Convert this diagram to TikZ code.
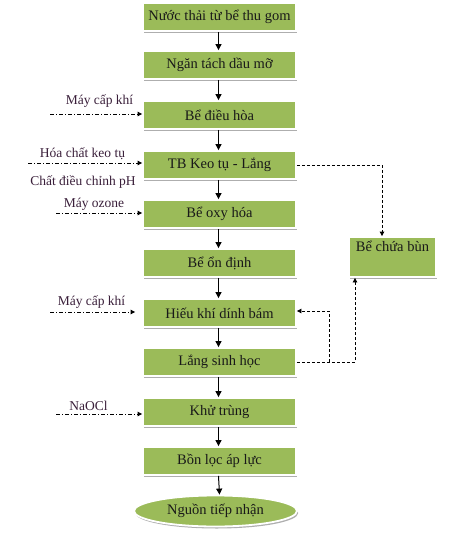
\documentclass[tikz,border=0pt]{standalone}
\usepackage{fontspec}
\setmainfont{Liberation Serif}
\usetikzlibrary{arrows.meta,shapes.geometric,shadows}
\definecolor{boxgreen}{HTML}{9BBB59}
\definecolor{labelcol}{HTML}{3A1F3A}
\tikzset{
  proc/.style={rectangle, fill=boxgreen, draw=white, line width=1.8pt,
    minimum width=153pt, minimum height=28pt, inner sep=0pt,
    font=\fontsize{14.5}{16}\selectfont, text=black!90,
    drop shadow={shadow xshift=1.2pt, shadow yshift=-1.8pt, fill=black!45, opacity=0.7}},
  flow/.style={line width=1pt, -{Triangle[length=6pt,width=6pt]}},
  feed/.style={line width=0.8pt, dash pattern=on 4pt off 2pt on 1pt off 2pt, -{Triangle[length=4.5pt,width=4.5pt]}},
  sludge/.style={line width=0.8pt, dash pattern=on 3pt off 2pt, -{Triangle[length=4.5pt,width=4.5pt]}},
  lbl/.style={font=\fontsize{13.5}{15}\selectfont, text=labelcol, inner sep=0pt}
}
\begin{document}
\begin{tikzpicture}[x=1pt,y=-1pt]
\useasboundingbox (0,0) rectangle (474,544);
\node[proc] (n1) at (219.5,17) {Nước thải từ bể thu gom};
\node[proc] (n2) at (219.5,65) {Ngăn tách dầu mỡ};
\node[proc] (n3) at (219.5,115) {Bể điều hòa};
\node[proc] (n4) at (219.5,165) {TB Keo tụ - Lắng};
\node[proc] (n5) at (219.5,214) {Bể oxy hóa};
\node[proc] (n6) at (219.5,263) {Bể ổn định};
\node[proc] (n7) at (219.5,313) {Hiếu khí dính bám};
\node[proc] (n8) at (219.5,362) {Lắng sinh học};
\node[proc] (n9) at (219.5,412) {Khử trùng};
\node[proc] (n10) at (219.5,461) {Bồn lọc áp lực};
\node[ellipse, fill=boxgreen, draw=white, line width=1.8pt, minimum width=163pt, minimum height=31pt, inner sep=0pt,
  font=\fontsize{14.5}{16}\selectfont, text=black!90,
  drop shadow={shadow xshift=1.2pt, shadow yshift=-2pt, fill=black!45, opacity=0.7}] (n11) at (215.5,511) {Nguồn tiếp nhận};
\node[proc, minimum width=87pt, minimum height=40pt, text depth=22pt, text height=10pt] (bun) at (392.5,257) {Bể chứa bùn};

\foreach \a/\b in {n1/n2,n2/n3,n3/n4,n4/n5,n5/n6,n6/n7,n7/n8,n8/n9,n9/n10}{
  \draw[flow] ([xshift=-1pt]\a.south) -- ([xshift=-1pt]\b.north);
}
\draw[flow] ([xshift=-1pt]n10.south) -- (n10.south |- n11.north);

% left feeds
\coordinate (f1) at (50,114);
\coordinate (f2) at (28,163);
\coordinate (f3) at (56,213);
\coordinate (f4) at (50,312);
\coordinate (f5) at (56,414);
\draw[feed] (f1) -- (f1 -| n3.west);
\draw[feed] (f2) -- (f2 -| n4.west);
\draw[feed] (f3) -- (f3 -| n5.west);
\draw[feed] (f4) -- ([xshift=-7pt]f4 -| n7.west);
\draw[feed] (f5) -- (f5 -| n9.west);
\node[lbl] (l1) at (99.5,101) {Máy cấp khí};
\node[lbl] (l2) at (82.5,154) {Hóa chất keo tụ};
\node[lbl] (l3) at (83,182) {Chất điều chỉnh pH};
\node[lbl] (l4) at (94,204) {Máy ozone};
\node[lbl] (l5) at (91.5,302) {Máy cấp khí};
\node[lbl] (l6) at (88.5,406) {NaOCl};

% sludge lines
\coordinate (s1) at (382,165);
\draw[sludge] (n4.east) -- (s1) -- (s1 |- bun.north);
\coordinate (s2) at (355,362);
\coordinate (s3) at (329,362);
\draw[sludge] (n8.east) -- (s2) -- (s2 |- bun.south);
\draw[sludge] (s3) -- (329,311) -- (n7.east |- 0,311);
\end{tikzpicture}
\end{document}
